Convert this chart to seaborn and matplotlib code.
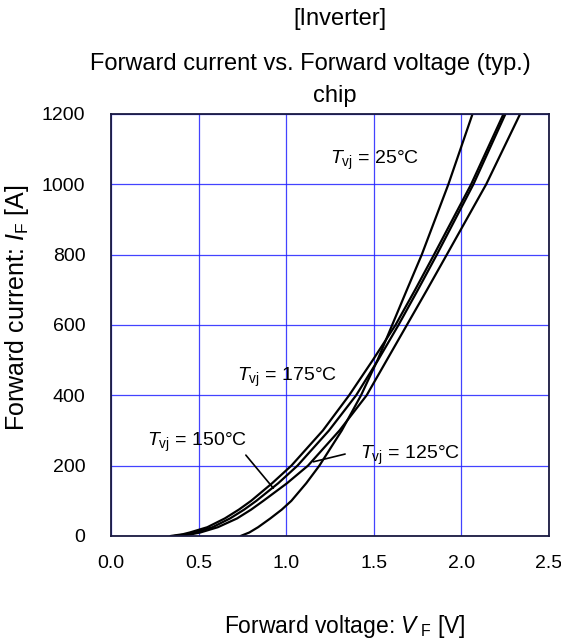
import matplotlib
matplotlib.use("Agg")
import matplotlib.pyplot as plt
import seaborn as sns
import pandas as pd
from matplotlib.ticker import MultipleLocator

# Forward characteristic of the inverter diode chip, one curve per junction temperature
current_a = [0, 5, 10, 25, 50, 75, 100, 150, 200, 300, 400, 500, 600, 700, 800, 1000, 1200]
vf_25c = [0.74, 0.765, 0.79, 0.84, 0.91, 0.975, 1.03, 1.115, 1.19, 1.318, 1.428, 1.522,
          1.606, 1.69, 1.775, 1.927, 2.065]
vf_125c = [0.38, 0.46, 0.51, 0.61, 0.72, 0.80, 0.87, 1.005, 1.125, 1.305, 1.46, 1.575,
           1.69, 1.805, 1.918, 2.143, 2.337]
vf_150c = [0.36, 0.43, 0.48, 0.58, 0.68, 0.76, 0.83, 0.955, 1.065, 1.245, 1.40, 1.525,
           1.642, 1.753, 1.861, 2.07, 2.253]
vf_175c = [0.34, 0.41, 0.45, 0.55, 0.65, 0.73, 0.80, 0.92, 1.03, 1.21, 1.36, 1.495,
           1.625, 1.737, 1.845, 2.057, 2.242]
temps = ["25", "125", "150", "175"]

x_ticks = [0.0, 0.5, 1.0, 1.5, 2.0, 2.5]
y_ticks = [0, 200, 400, 600, 800, 1000, 1200]

frames = []
for t, v in zip(temps, [vf_25c, vf_125c, vf_150c, vf_175c]):
    frames.append(pd.DataFrame({"VF": v, "IF": current_a, "Tvj": t}))
df = pd.concat(frames, ignore_index=True)

sns.set_theme(style="white")
plt.rcParams["font.family"] = ["Liberation Sans", "DejaVu Sans"]
plt.rcParams["text.color"] = "black"
plt.rcParams["mathtext.fontset"] = "custom"
plt.rcParams["mathtext.rm"] = "Liberation Sans"
plt.rcParams["mathtext.it"] = "Liberation Sans:italic"

fig = plt.figure(figsize=(5.61, 6.39), dpi=100)
ax = fig.add_axes([0.198, 0.1612, 0.780, 0.6604])

for t in temps:
    sub = df[df["Tvj"] == t]
    sns.lineplot(data=sub, x="VF", y="IF", ax=ax, color="black", lw=1.6,
                 estimator=None, sort=False, legend=False)

ax.set_xlim(0, 2.5)
ax.set_ylim(0, 1200)
ax.set_xticks(x_ticks)
ax.set_xticklabels([f"{v:.1f}" for v in x_ticks])
ax.set_yticks(y_ticks)
ax.set_yticklabels([str(v) for v in y_ticks])
ax.xaxis.set_minor_locator(MultipleLocator(0.1))
ax.yaxis.set_minor_locator(MultipleLocator(40))
ax.tick_params(which="both", direction="in", colors="#222244", labelcolor="black",
               labelsize=14)
ax.tick_params(axis="x", which="major", length=6, width=1, pad=14)
ax.tick_params(axis="y", which="major", length=6, width=1, pad=18.5)
ax.tick_params(which="minor", length=5, width=0.8)
ax.grid(True, which="major", color="#2222ff", lw=0.9, alpha=0.85)
ax.set_axisbelow(True)
for s in ax.spines.values():
    s.set_color("#1a1a40")
    s.set_linewidth(1.3)

ax.set_xlabel("")
ax.set_ylabel("")
fig.text(0.615, 0.010, r"Forward voltage: $V_{\rm \ F}$ [V]", ha="center", va="baseline",
         fontsize=16.5)
fig.text(0.031, 0.519, r"Forward current: $I_{\rm F}$ [A]", ha="center", va="center",
         rotation=90, fontsize=18)

fig.text(0.606, 0.961, "[Inverter]", ha="center", va="baseline", fontsize=17)
fig.text(0.553, 0.890, "Forward current vs. Forward voltage (typ.)", ha="center",
         va="baseline", fontsize=17)
fig.text(0.597, 0.840, "chip", ha="center", va="baseline", fontsize=17)

lab_kw = dict(fontsize=14, va="center", ha="left")
ax.text(1.25, 1069, r"$T_{\rm vj}$ = 25°C", **lab_kw)
ax.text(0.72, 450, r"$T_{\rm vj}$ = 175°C", **lab_kw)
ax.text(0.205, 265, r"$T_{\rm vj}$ = 150°C", **lab_kw)
ax.text(1.42, 230, r"$T_{\rm vj}$ = 125°C", **lab_kw)
ax.plot([0.77, 0.927], [230, 136], color="black", lw=1.2)
ax.plot([1.337, 1.156], [233, 211], color="black", lw=1.2)

fig.savefig("out.png", dpi=100)
